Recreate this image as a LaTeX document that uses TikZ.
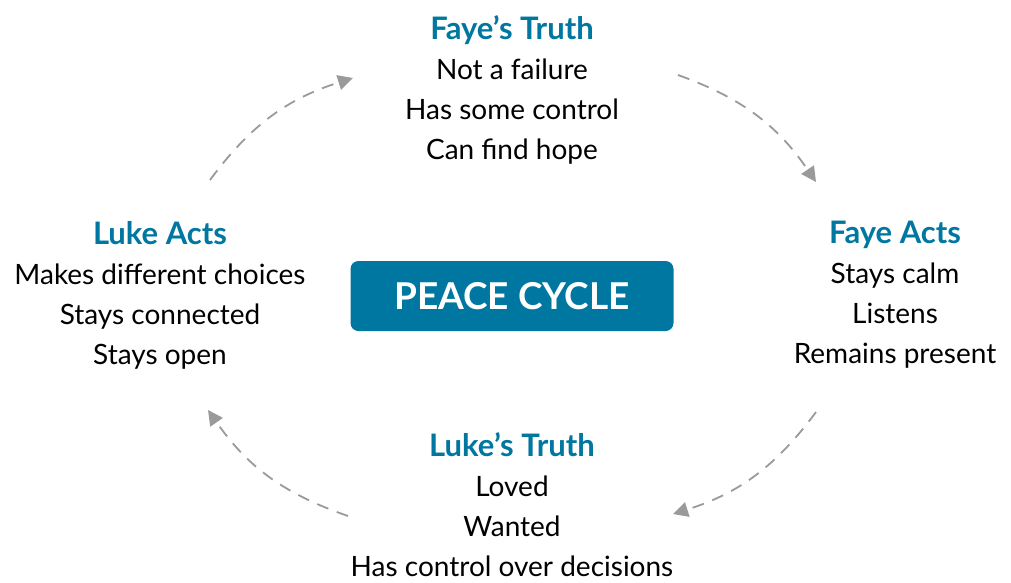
\documentclass[tikz,border=0pt]{standalone}
\usepackage{fontspec}
\setmainfont{Lato}
\usetikzlibrary{arrows.meta}

\definecolor{peaceblue}{HTML}{0077A0}
\definecolor{arrowgrey}{HTML}{9A9A9A}

\tikzset{
  stage/.style={align=center, font=\fontsize{28}{40}\selectfont, text=black, inner sep=0pt},
  cycleflow/.style={draw=arrowgrey, line width=1.8pt, dash pattern=on 12pt off 9pt,
    -{Triangle[length=15pt,width=15pt]}, bend left=18},
}
\newcommand{\stagetitle}[1]{{\fontsize{31}{40}\selectfont\bfseries\color{peaceblue}#1}}

\begin{document}
\begin{tikzpicture}[x=1pt,y=-1pt]
\useasboundingbox (0,0) rectangle (1011,582);

% centre box
\node[fill=peaceblue, rounded corners=8pt, minimum width=323pt, minimum height=70pt,
  text=white, font=\fontsize{37}{40}\selectfont\bfseries] (peace) at (512,296) {PEACE CYCLE};

% the four stages
\node[stage] (fayetruth) at (512,90) {\stagetitle{Faye’s Truth}\\Not a failure\\Has some control\\Can find hope};
\node[stage] (fayeacts) at (895,295) {\stagetitle{Faye Acts}\\Stays calm\\Listens\\Remains present};
\node[stage] (luketruth) at (512,505) {\stagetitle{Luke’s Truth}\\Loved\\Wanted\\Has control over decisions};
\node[stage] (lukeacts) at (160,295) {\stagetitle{Luke Acts}\\Makes different choices\\Stays connected\\Stays open};

% arrow ends
\coordinate (tl1) at (210,180);
\coordinate (tl2) at (353,78);
\coordinate (tr1) at (678,75);
\coordinate (tr2) at (816,182);
\coordinate (br1) at (816,412);
\coordinate (br2) at (673,514);
\coordinate (bl1) at (348,516);
\coordinate (bl2) at (208,410);

\draw[cycleflow] (tl1) to (tl2);
\draw[cycleflow] (tr1) to (tr2);
\draw[cycleflow] (br1) to (br2);
\draw[cycleflow] (bl1) to (bl2);

\end{tikzpicture}
\end{document}
